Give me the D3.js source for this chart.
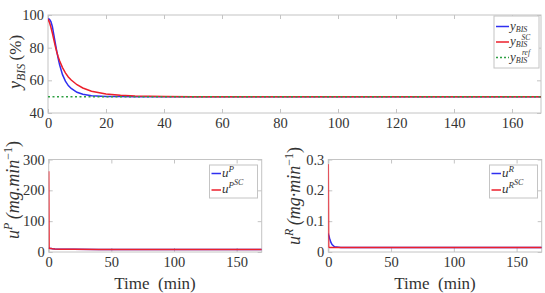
<!DOCTYPE html>
<html>
<head>
<meta charset="utf-8">
<script src="https://cdn.jsdelivr.net/npm/d3@7"></script>
<style>
  body { margin: 0; background: #fff; }
  svg { display: block; }
  text { font-family: "Liberation Serif", "Times New Roman", serif; fill: #333; }
</style>
</head>
<body>
<svg id="fig" width="545" height="293"></svg>
<script>
// ---- top panel: BIS response (%)
var tBis   = [0, 0.5, 1, 1.5, 2, 2.5, 3, 3.5, 4, 5, 6, 7, 8, 10, 12, 15, 20, 25, 30, 40, 50, 170];
var yBis   = [97.5, 97.4, 96, 93, 88, 83, 78, 73.5, 69.5, 63.5, 59.5, 56.8, 55, 52.7, 51.5, 50.6, 50.15, 50.05, 50, 50, 50, 50];
var yBisSC = [97.5, 95.5, 92.5, 89, 85, 81, 77.5, 74.5, 72, 67.8, 64.6, 62.1, 60.2, 57.3, 55.3, 53.3, 51.6, 50.8, 50.4, 50.1, 50, 50];
var yRef   = [50, 50];
var tRef   = [0, 170];

// ---- bottom panels: infusion rates
var tU   = [0, 0.3, 1, 2, 3, 5, 10, 20, 40, 170];
var uP   = [14, 13, 12, 11, 10.5, 10, 9.3, 8.8, 8.2, 8];
var uPSC = [262, 12, 11.5, 11, 10.5, 10, 9.3, 8.8, 8.2, 8];
var uR   = [0.06, 0.055, 0.045, 0.032, 0.024, 0.017, 0.015, 0.015, 0.015, 0.015];
var uRSC = [0.285, 0.016, 0.015, 0.015, 0.015, 0.015, 0.015, 0.015, 0.015, 0.015];

var xTicksTop = [0, 20, 40, 60, 80, 100, 120, 140, 160];
var yTicksTop = [40, 60, 80, 100];
var xTicksBot = [0, 50, 100, 150];
var yTicksP   = [0, 100, 200, 300];
var yTicksR   = [0, 0.1, 0.2, 0.3];

var blue = "#2f2ff0", red = "#ec1f2b", green = "#2ea043", boxCol = "#c4c4c4";
var serif = "'Liberation Serif', 'Times New Roman', serif";

var svg = d3.select("#fig");

function zip(a, b) { return a.map(function(v, i) { return [v, b[i]]; }); }

// rich text: parts = [{t, it, dy, fs}]
function rich(g, parts) {
    var txt = g.append("text").style("font-family", serif);
    var off = 0;
    parts.forEach(function(p) {
        var d = (p.dy || 0) - off;
        txt.append("tspan")
            .attr("dy", d)
            .style("font-style", p.it ? "italic" : "normal")
            .style("font-size", p.fs + "px")
            .text(p.t);
        off = p.dy || 0;
    });
    return txt;
}

function panel(o) {
    var x = d3.scaleLinear().domain([0, 170]).range([o.x0, o.x1]);
    var y = d3.scaleLinear().domain(o.yDom).range([o.y1, o.y0]);
    var g = svg.append("g");

    g.append("g")
        .attr("transform", "translate(0," + o.y1 + ")")
        .call(d3.axisBottom(x).tickValues(o.xt).tickSizeInner(-4).tickSizeOuter(0).tickPadding(5))
        .call(function(a) { a.select(".domain").remove(); });
    g.append("g")
        .attr("transform", "translate(0," + o.y0 + ")")
        .call(d3.axisTop(x).tickValues(o.xt).tickSizeInner(-4).tickSizeOuter(0).tickFormat(""))
        .call(function(a) { a.select(".domain").remove(); });
    g.append("g")
        .attr("transform", "translate(" + o.x0 + ",0)")
        .call(d3.axisLeft(y).tickValues(o.yt).tickSizeInner(-4).tickSizeOuter(0).tickPadding(4).tickFormat(o.fmt))
        .call(function(a) { a.select(".domain").remove(); });
    g.append("g")
        .attr("transform", "translate(" + o.x1 + ",0)")
        .call(d3.axisRight(y).tickValues(o.yt).tickSizeInner(-4).tickSizeOuter(0).tickFormat(""))
        .call(function(a) { a.select(".domain").remove(); });

    g.selectAll("g").attr("font-family", serif);
    g.selectAll(".tick line").attr("stroke", boxCol);
    g.selectAll(".tick text")
        .style("font-family", serif)
        .style("font-size", "14.5px")
        .attr("fill", "#333");

    g.append("rect")
        .attr("x", o.x0).attr("y", o.y0)
        .attr("width", o.x1 - o.x0).attr("height", o.y1 - o.y0)
        .attr("fill", "none").attr("stroke", boxCol).attr("stroke-width", 1);

    var clip = "clip" + o.id;
    g.append("clipPath").attr("id", clip).append("rect")
        .attr("x", o.x0).attr("y", o.y0 - 1)
        .attr("width", o.x1 - o.x0).attr("height", o.y1 - o.y0 + 1);

    var line = d3.line().x(function(d) { return x(d[0]); }).y(function(d) { return y(d[1]); });
    o.series.forEach(function(s) {
        g.append("path")
            .datum(s.data)
            .attr("clip-path", "url(#" + clip + ")")
            .attr("fill", "none")
            .attr("stroke", s.color)
            .attr("stroke-width", 1.5)
            .attr("stroke-dasharray", s.dash || null)
            .attr("d", line);
    });
    return { x: x, y: y, g: g };
}

// ---- top panel
panel({
    id: "a", x0: 48, x1: 541, y0: 15, y1: 113,
    yDom: [40, 100], xt: xTicksTop, yt: yTicksTop, fmt: d3.format("d"),
    series: [
        { data: zip(tBis, yBis), color: blue },
        { data: zip(tBis, yBisSC), color: red },
        { data: zip(tRef, yRef), color: green, dash: "2,2.5" }
    ]
});

// ---- bottom left
panel({
    id: "b", x0: 48.7, x1: 261.7, y0: 159.5, y1: 252,
    yDom: [0, 300], xt: xTicksBot, yt: yTicksP, fmt: d3.format("d"),
    series: [
        { data: zip(tU, uP), color: blue },
        { data: zip(tU, uPSC), color: red }
    ]
});

// ---- bottom right
panel({
    id: "c", x0: 328.3, x1: 541.7, y0: 159.5, y1: 252,
    yDom: [0, 0.3], xt: xTicksBot, yt: yTicksR, fmt: function(d) { return d === 0 ? "0" : d3.format(".1f")(d); },
    series: [
        { data: zip(tU, uR), color: blue },
        { data: zip(tU, uRSC), color: red }
    ]
});

// ---- axis labels
rich(svg.append("g").attr("transform", "translate(21,62) rotate(-90)"), [
    { t: "y", it: true, fs: 18 },
    { t: "BIS", it: true, fs: 12, dy: 4 },
    { t: "\u2009(%)", it: false, fs: 17 }
]).attr("text-anchor", "middle");

rich(svg.append("g").attr("transform", "translate(19,190) rotate(-90)"), [
    { t: "u", it: true, fs: 18 },
    { t: "P", it: true, fs: 12, dy: -7 },
    { t: "\u2009(mg.min", it: true, fs: 18 },
    { t: "\u22121", it: false, fs: 12, dy: -7 },
    { t: ")", it: false, fs: 18 }
]).attr("text-anchor", "middle");

rich(svg.append("g").attr("transform", "translate(300,196) rotate(-90)"), [
    { t: "u", it: true, fs: 18 },
    { t: "R", it: true, fs: 12, dy: -7 },
    { t: "\u2009(mg\u00b7min", it: true, fs: 18 },
    { t: "\u22121", it: false, fs: 12, dy: -7 },
    { t: ")", it: false, fs: 18 }
]).attr("text-anchor", "middle");

[155, 435].forEach(function(cx) {
    svg.append("text")
        .attr("x", cx).attr("y", 289)
        .attr("text-anchor", "middle")
        .style("font-family", serif)
        .style("font-size", "17px")
        .text("Time\u00a0\u00a0(min)");
});

// ---- legends
function legend(bx, by, bw, bh, items) {
    var g = svg.append("g");
    g.append("rect").attr("x", bx).attr("y", by).attr("width", bw).attr("height", bh)
        .attr("fill", "#fff").attr("stroke", boxCol);
    items.forEach(function(it) {
        g.append("line")
            .attr("x1", it.x1).attr("x2", it.x2).attr("y1", it.y).attr("y2", it.y)
            .attr("stroke", it.color).attr("stroke-width", 1.5)
            .attr("stroke-dasharray", it.dash || null);
        rich(g.append("g").attr("transform", "translate(" + (it.x2 + 1) + "," + (it.y + 3) + ")"), it.parts);
        if (it.sup) {
            g.append("text").attr("x", it.x2 + 17).attr("y", it.y - 2.5)
                .attr("text-anchor", "middle")
                .style("font-family", serif)
                .style("font-size", "7.5px").style("font-style", "italic")
                .text(it.sup);
        }
    });
}

legend(494, 16, 45, 52, [
    { x1: 496, x2: 509, y: 26.5, color: blue,
      parts: [{ t: "y", it: true, fs: 13 }, { t: "BIS", it: true, fs: 8, dy: 2 }] },
    { x1: 496, x2: 509, y: 42, color: red, sup: "SC",
      parts: [{ t: "y", it: true, fs: 13 }, { t: "BIS", it: true, fs: 8, dy: 2 }] },
    { x1: 496, x2: 509, y: 57.5, color: green, dash: "2,2", sup: "ref",
      parts: [{ t: "y", it: true, fs: 13 }, { t: "BIS", it: true, fs: 8, dy: 2 }] }
]);

legend(209.5, 165, 48, 33, [
    { x1: 211.5, x2: 221, y: 173.5, color: blue,
      parts: [{ t: "u", it: true, fs: 13 }, { t: "P", it: true, fs: 9, dy: -5 }] },
    { x1: 211.5, x2: 221, y: 190, color: red,
      parts: [{ t: "u", it: true, fs: 13 }, { t: "P", it: true, fs: 9, dy: -5 }, { t: "SC", it: true, fs: 8, dy: -8 }] }
]);

legend(489.5, 165, 48, 33, [
    { x1: 491.5, x2: 501, y: 173.5, color: blue,
      parts: [{ t: "u", it: true, fs: 13 }, { t: "R", it: true, fs: 9, dy: -5 }] },
    { x1: 491.5, x2: 501, y: 190, color: red,
      parts: [{ t: "u", it: true, fs: 13 }, { t: "R", it: true, fs: 9, dy: -5 }, { t: "SC", it: true, fs: 8, dy: -8 }] }
]);
</script>
</body>
</html>
